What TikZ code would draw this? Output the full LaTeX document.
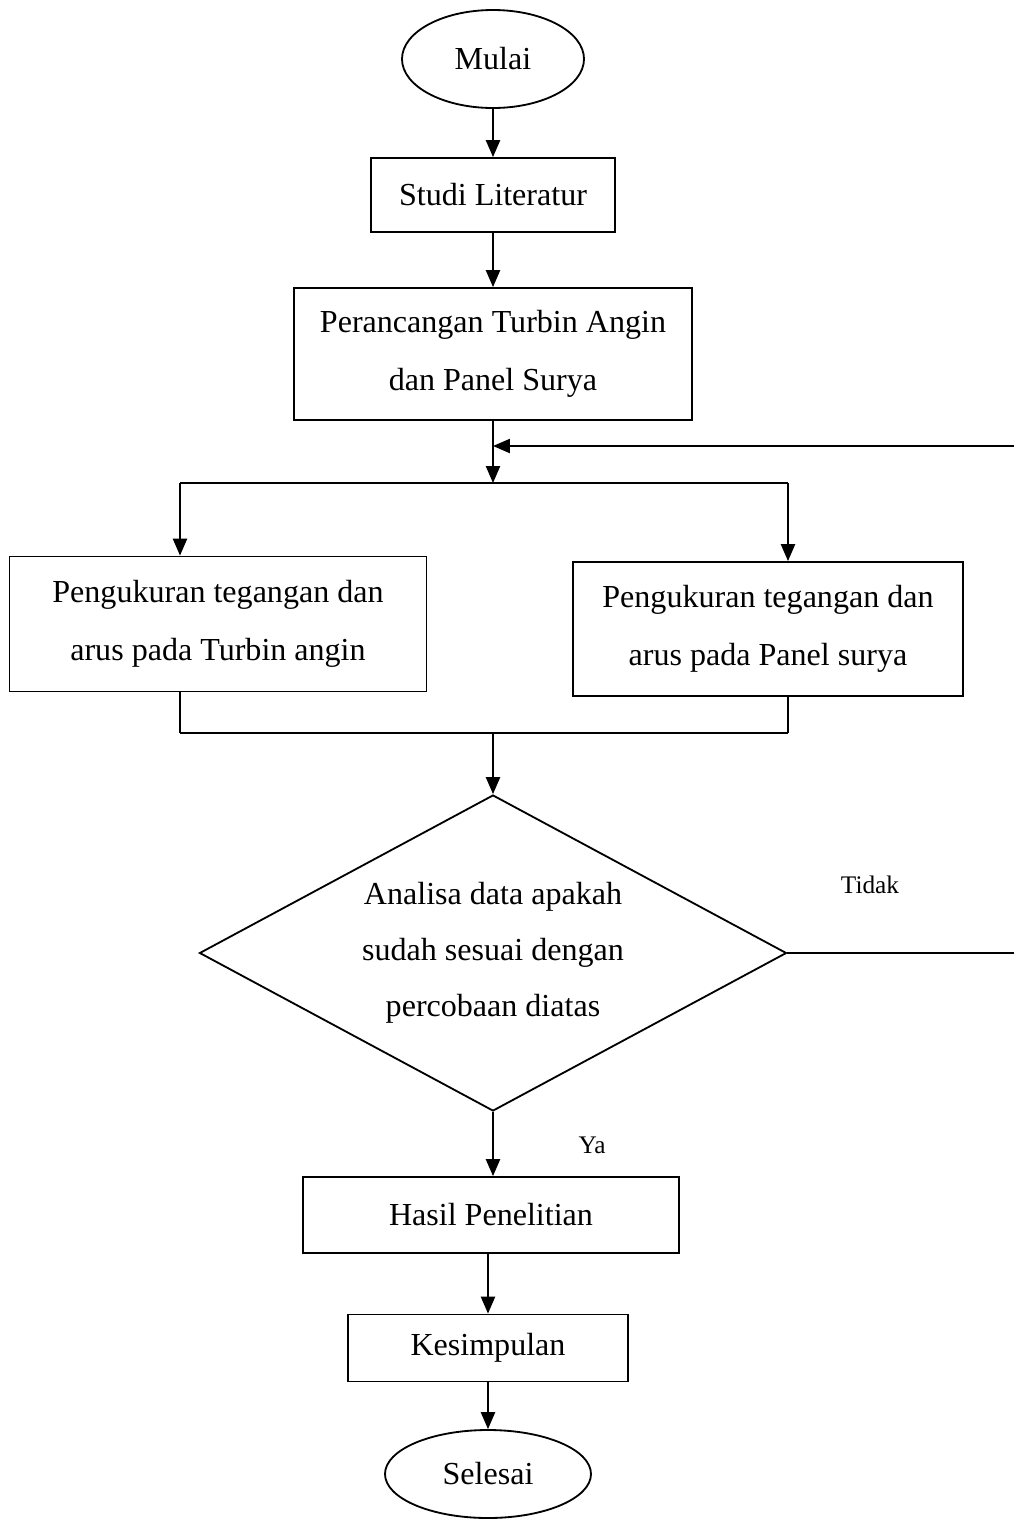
\documentclass[tikz,border=0pt]{standalone}
\usepackage{fontspec}
\setmainfont{Liberation Serif}
\usetikzlibrary{shapes.geometric, arrows.meta, positioning}

\begin{document}
\begin{tikzpicture}[x=0.025cm, y=-0.025cm, line width=1.3pt]
        \tikzstyle{box} = [rectangle, draw, inner sep=0pt, align=center, font=\fontsize{22.8}{41}\selectfont]
        \tikzstyle{term} = [ellipse, draw, inner sep=0pt, font=\fontsize{22.8}{41}\selectfont]
        \tikzstyle{decision} = [diamond, draw, inner sep=0pt, aspect=1.86, align=center, font=\fontsize{22.8}{40}\selectfont]
        \tikzstyle{arrow} = [-{Triangle[width=10pt, length=12pt]}]
        \tikzstyle{lbl} = [font=\fontsize{18}{20}\selectfont]

        \useasboundingbox (0,0) rectangle (1014,1521);

        % Start
        \node[term, minimum width=182*0.025cm, minimum height=98*0.025cm] (mulai) at (493,59) {Mulai};
        \node[box, minimum width=244*0.025cm, minimum height=74*0.025cm] (studi) at (493,195) {Studi Literatur};
        \node[box, minimum width=398*0.025cm, minimum height=132*0.025cm] (rancang) at (493,354) {Perancangan Turbin Angin\\dan Panel Surya};

        % Measurements
        \coordinate (split) at (493,483);
        \coordinate (splitL) at (180,483);
        \coordinate (splitR) at (788,483);
        \node[box, minimum width=417*0.025cm, minimum height=135*0.025cm] (ukurTurbin) at (218,624) {Pengukuran tegangan dan\\arus pada Turbin angin};
        \node[box, minimum width=390*0.025cm, minimum height=134*0.025cm] (ukurPanel) at (768,629) {Pengukuran tegangan dan\\arus pada Panel surya};
        \coordinate (join) at (493,733);
        \coordinate (joinL) at (180,733);
        \coordinate (joinR) at (788,733);

        % Decision
        \node[decision, minimum width=587*0.025cm, minimum height=316*0.025cm] (analisa) at (493,953) {Analisa data apakah\\sudah sesuai dengan\\percobaan diatas};
        \coordinate (loopB) at (1014,953);
        \coordinate (loopT) at (1014,446);
        \node[lbl] (tidak) at (870,885) {Tidak};
        \node[lbl] (ya) at (592,1145) {Ya};

        % End
        \node[box, minimum width=376*0.025cm, minimum height=76*0.025cm] (hasil) at (491,1215) {Hasil Penelitian};
        \node[box, minimum width=280*0.025cm, minimum height=67*0.025cm] (simpul) at (488,1348) {Kesimpulan};
        \node[term, minimum width=206*0.025cm, minimum height=88*0.025cm] (selesai) at (488,1474) {Selesai};

        \draw[arrow] (mulai) -- (studi);
        \draw[arrow] (studi) -- (rancang);
        \draw[arrow] (rancang) -- (split);
        \draw (splitL) -- (splitR);
        \draw[arrow] (splitL) -- (splitL |- ukurTurbin.north);
        \draw[arrow] (splitR) -- (splitR |- ukurPanel.north);
        \draw (joinL |- ukurTurbin.south) -- (joinL);
        \draw (joinR |- ukurPanel.south) -- (joinR);
        \draw (joinL) -- (joinR);
        \draw[arrow] (join) -- (analisa.north);
        \draw (analisa.east) -- (loopB);
        \draw[arrow] (loopT) -- (rancang.south |- loopT);
        \draw[arrow] (analisa.south) -- (analisa.south |- hasil.north);
        \draw[arrow] (simpul.north |- hasil.south) -- (simpul.north);
        \draw[arrow] (simpul) -- (selesai);
    \end{tikzpicture}
\end{document}
